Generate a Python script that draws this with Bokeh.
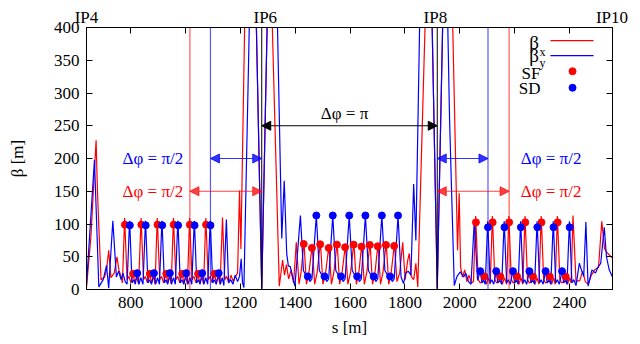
from bokeh.plotting import figure
from bokeh.models import Range1d, LinearAxis, FixedTicker, Label, Arrow, NormalHead, Span
from bokeh.embed import file_html
from bokeh.resources import INLINE

FONT = "'Liberation Serif', 'Times New Roman', serif"
RED = "#ff0000"
BLUE = "#0000ff"

# ---------------- data ----------------
x_ticks = [800, 1000, 1200, 1400, 1600, 1800, 2000, 2200, 2400]
y_ticks = [0, 50, 100, 150, 200, 250, 300, 350, 400]

ip_names = ["IP4", "IP6", "IP8", "IP10"]
ip_label_s = [639, 1291, 1911, 2555]
ip_line_s = [1278, 1918]

# beta_x (red) trace, (s [m], beta [m])
beta_x_pts = [
    (639, 3), (655, 80), (674, 228), (679, 150), (684, 95), (692, 15), (705, 19), (712, 30), (720, 60),
    (728, 18), (740, 25), (750, 50), (757, 30), (765, 20), (770, 10),
    (778, 109), (779, 99), (787, 15), (794, 20), (801, 10), (809, 24), (815, 10), (822, 20), (829, 8),
    (838, 109), (839, 99), (847, 15), (854, 20), (861, 10), (870, 24), (876, 10), (883, 20), (889, 8),
    (897, 109), (898, 99), (906, 15), (913, 20), (920, 10), (930, 24), (936, 10), (943, 20), (948, 8),
    (956, 109), (957, 99), (965, 15), (972, 20), (979, 10), (988, 24), (994, 10), (1001, 20), (1007, 8),
    (1015, 109), (1016, 99), (1024, 15), (1031, 20), (1038, 10), (1046, 24), (1052, 10), (1059, 20), (1066, 8),
    (1074, 109), (1075, 99), (1083, 15), (1090, 20), (1097, 10), (1106, 24), (1112, 10), (1119, 20), (1126, 8),
    (1135, 110), (1143, 15), (1150, 20), (1158, 10), (1166, 22), (1174, 12), (1182, 20), (1190, 25),
    (1197, 151), (1202, 62), (1216, 410), (1258, 410), (1278, 1), (1298, 410), (1316, 410), (1342, 5),
    (1354, 45), (1361, 22), (1368, 38), (1376, 16), (1385, 30), (1394, 10), (1404, 72), (1414, 8), (1422, 28),
    (1431, 69.5), (1432, 72), (1441, 8), (1450, 26), (1461, 63.5), (1462, 66), (1471, 8), (1480, 26),
    (1491, 69), (1492, 72), (1501, 8), (1511, 26), (1522, 63.5), (1523, 66), (1532, 8), (1541, 26),
    (1552, 68.5), (1553, 71), (1562, 8), (1571, 26), (1582, 64.5), (1583, 67), (1592, 8), (1602, 26),
    (1613, 68.5), (1614, 71), (1623, 8), (1632, 26), (1642, 65.5), (1643, 68), (1652, 8), (1661, 26),
    (1672, 68), (1673, 71), (1682, 8), (1691, 26), (1701, 66), (1702, 69), (1711, 8), (1720, 26),
    (1731, 68), (1732, 71), (1741, 8), (1750, 26), (1761, 66.5), (1762, 69),
    (1771, 12), (1781, 25), (1792, 72), (1801, 15), (1810, 44), (1816, 55), (1823, 20), (1832, 15),
    (1840, 40), (1847, 4), (1874, 410), (1899, 410), (1918, 1), (1938, 410), (1974, 410), (1992, 60),
    (1998, 147), (2003, 35),
    (2010, 19), (2018, 30), (2026, 12), (2034, 22), (2042, 10), (2050, 12),
    (2058, 112), (2059, 102.5), (2067, 15), (2075, 10), (2083, 12), (2090, 20), (2097, 8), (2104, 18), (2111, 8),
    (2119, 112), (2120, 102.5), (2128, 15), (2135, 10), (2142, 12), (2148, 20), (2155, 8), (2163, 18), (2171, 8),
    (2179, 112), (2180, 102.5), (2188, 15), (2195, 10), (2202, 12), (2209, 20), (2216, 8), (2223, 18), (2230, 8),
    (2238, 112), (2239, 102.5), (2247, 15), (2254, 10), (2260, 12), (2267, 20), (2274, 8), (2282, 18), (2289, 8),
    (2297, 112), (2298, 102.5), (2306, 15), (2313, 10), (2320, 12), (2328, 20), (2335, 8), (2342, 18), (2348, 8),
    (2356, 112), (2357, 102.5), (2365, 15), (2372, 10), (2379, 12), (2386, 20), (2393, 8), (2400, 18), (2406, 10),
    (2413, 113), (2424, 12), (2438, 14), (2448, 28), (2458, 12), (2469, 8), (2480, 22), (2492, 30),
    (2506, 34), (2518, 104), (2528, 62), (2540, 55), (2557, 48),
]

# beta_y (blue) trace, (s [m], beta [m])
beta_y_pts = [
    (639, 7), (668, 198), (684, 4), (700, 15), (712, 37), (720, 2), (735, 105), (748, 19), (756, 28),
    (765, 15), (772, 25), (780, 12),
    (787, 8), (796, 105), (797, 98), (805, 10), (811, 15), (817, 8), (824, 25), (830, 8), (837, 18),
    (845, 8), (854, 105), (855, 98), (863, 10), (869, 15), (876, 8), (885, 25), (891, 8), (898, 18),
    (905, 8), (914, 105), (915, 98), (923, 10), (929, 15), (935, 8), (943, 25), (949, 8), (956, 18),
    (963, 8), (972, 105), (973, 98), (981, 10), (987, 15), (994, 8), (1003, 25), (1009, 8), (1016, 18),
    (1023, 8), (1032, 105), (1033, 98), (1041, 10), (1047, 15), (1053, 8), (1061, 25), (1067, 8), (1074, 18),
    (1081, 8), (1090, 105), (1091, 98), (1099, 10), (1105, 15), (1112, 8), (1121, 25), (1127, 8), (1134, 18),
    (1140, 6), (1149, 107), (1157, 10), (1165, 15), (1173, 8), (1181, 22), (1190, 12), (1197, 20),
    (1203, 47), (1208, 10), (1213, 3), (1233, 410), (1258, 410), (1278, 1), (1298, 410), (1335, 410),
    (1351, 78), (1360, 166), (1369, 55), (1375, 36), (1382, 35), (1390, 20), (1399, 5), (1419, 113),
    (1430, 29), (1438, 22),
    (1446, 20), (1454, 12), (1461, 16), (1477, 113), (1488, 29), (1497, 22),
    (1507, 20), (1515, 12), (1522, 16), (1537, 113), (1548, 29), (1557, 22),
    (1567, 20), (1575, 12), (1582, 16), (1597, 113), (1608, 29), (1617, 22),
    (1626, 20), (1634, 12), (1641, 16), (1656, 113), (1667, 29), (1676, 22),
    (1686, 20), (1694, 12), (1701, 16), (1716, 113), (1727, 29), (1736, 22),
    (1746, 20), (1754, 12), (1761, 16), (1775, 113),
    (1786, 19), (1795, 9), (1803, 25), (1812, 28), (1822, 22), (1832, 161), (1840, 75), (1854, 410),
    (1899, 410), (1918, 1), (1938, 410), (1956, 410), (1963, 258), (1980, 6),
    (1990, 20), (2002, 27), (2014, 19), (2022, 25), (2032, 12), (2041, 8), (2053, 105), (2065, 14),
    (2075, 28), (2081, 10), (2087, 14), (2093, 8), (2102, 104), (2103, 95), (2111, 10), (2117, 15), (2124, 8),
    (2133, 28), (2139, 10), (2146, 14), (2153, 8), (2162, 104), (2163, 95), (2171, 10), (2177, 15), (2184, 8),
    (2194, 28), (2200, 10), (2207, 14), (2213, 8), (2222, 104), (2223, 95), (2231, 10), (2237, 15), (2244, 8),
    (2254, 28), (2260, 10), (2267, 14), (2273, 8), (2282, 104), (2283, 95), (2291, 10), (2297, 15), (2304, 8),
    (2313, 28), (2319, 10), (2326, 14), (2332, 8), (2341, 104), (2342, 95), (2350, 10), (2356, 15), (2363, 8),
    (2373, 28), (2379, 10), (2386, 14), (2391, 8), (2400, 104), (2401, 95), (2409, 10), (2416, 15), (2424, 6),
    (2436, 40), (2445, 28), (2452, 20), (2460, 103), (2468, 5), (2482, 30), (2495, 25), (2505, 35),
    (2514, 40), (2527, 95), (2535, 50), (2545, 30), (2557, 19),
]

# sextupole markers
sf_s = [779, 839, 898, 957, 1016, 1075, 809, 870, 930, 988, 1046, 1106,
        1431, 1461, 1491, 1522, 1552, 1582, 1613, 1642, 1672, 1701, 1731, 1761,
        2059, 2120, 2180, 2239, 2298, 2357, 2090, 2148, 2209, 2267, 2328, 2386]
sf_beta = [99, 99, 99, 99, 99, 99, 24, 24, 24, 24, 24, 24,
           69.5, 63.5, 69, 63.5, 68.5, 64.5, 68.5, 65.5, 68, 66, 68, 66.5,
           102.5, 102.5, 102.5, 102.5, 102.5, 102.5, 20, 20, 20, 20, 20, 20]
sd_s = [797, 855, 915, 973, 1033, 1091, 824, 885, 943, 1003, 1061, 1121,
        1477, 1537, 1597, 1656, 1716, 1775, 1446, 1507, 1567, 1626, 1686, 1746,
        2103, 2163, 2223, 2283, 2342, 2401, 2075, 2133, 2194, 2254, 2313, 2373]
sd_beta = [98, 98, 98, 98, 98, 98, 25, 25, 25, 25, 25, 25,
           113, 113, 113, 113, 113, 113, 20, 20, 20, 20, 20, 20,
           95, 95, 95, 95, 95, 95, 28, 28, 28, 28, 28, 28]

# phase-advance markers (sextupole positions used for the arrows)
red_mark_s = [1016, 2180]
blue_mark_s = [1091, 2103]
arrow_level = {"pi": 250, "blue": 200, "red": 150}

s_bx = [p_[0] for p_ in beta_x_pts]
b_x = [p_[1] for p_ in beta_x_pts]
s_by = [p_[0] for p_ in beta_y_pts]
b_y = [p_[1] for p_ in beta_y_pts]

X0, X1 = 639, 2557
Y0, Y1 = 0, 400

# ---------------- figure ----------------
p = figure(width=640, height=344, output_backend="svg", toolbar_location=None,
           x_range=Range1d(X0, X1), y_range=Range1d(Y0, Y1),
           min_border_left=86, min_border_right=28, min_border_top=27, min_border_bottom=55,
           x_axis_label="s [m]", y_axis_label="β [m]")
p.background_fill_color = "white"
p.border_fill_color = "white"
p.outline_line_color = "black"
p.outline_line_width = 1
p.xgrid.visible = False
p.ygrid.visible = False


def style_axis(ax, show_labels=True):
    ax.axis_line_color = "black"
    ax.major_tick_line_color = "black"
    ax.major_tick_in = 6
    ax.major_tick_out = 0
    ax.minor_tick_line_color = None
    ax.major_label_text_font = FONT
    ax.major_label_text_color = "black"
    ax.axis_label_text_font = FONT
    ax.axis_label_text_font_size = "17px"
    ax.axis_label_text_font_style = "normal"
    ax.axis_label_text_color = "black"
    if show_labels:
        ax.major_label_text_font_size = "17px"
        ax.major_label_standoff = 7
    else:
        ax.major_label_text_font_size = "1px"
        ax.major_label_text_color = None
        ax.major_label_standoff = 0


p.xaxis.ticker = FixedTicker(ticks=x_ticks)
p.yaxis.ticker = FixedTicker(ticks=y_ticks)
style_axis(p.xaxis[0])
style_axis(p.yaxis[0])
p.xaxis[0].axis_label_standoff = 7
p.yaxis[0].axis_label_standoff = 24

# mirrored tick marks (top and right)
ax_top = LinearAxis(ticker=FixedTicker(ticks=x_ticks))
style_axis(ax_top, False)
p.add_layout(ax_top, "above")
ax_right = LinearAxis(ticker=FixedTicker(ticks=y_ticks))
style_axis(ax_right, False)
p.add_layout(ax_right, "right")

# interaction-point names above the frame
ax_ip = LinearAxis(ticker=FixedTicker(ticks=ip_label_s),
                   major_label_overrides={s: n for s, n in zip(ip_label_s, ip_names)})
ax_ip.axis_line_color = None
ax_ip.major_tick_line_color = None
ax_ip.major_tick_in = 0
ax_ip.major_tick_out = 0
ax_ip.minor_tick_line_color = None
ax_ip.major_label_text_font = FONT
ax_ip.major_label_text_font_size = "17px"
ax_ip.major_label_text_color = "black"
ax_ip.major_label_standoff = 1
p.add_layout(ax_ip, "above")

# vertical marker lines
for s in red_mark_s:
    p.add_layout(Span(location=s, dimension="height", line_color=RED, line_alpha=0.65, line_width=1.2))
for s in blue_mark_s:
    p.add_layout(Span(location=s, dimension="height", line_color=BLUE, line_alpha=0.65, line_width=1.2))
for s in ip_line_s:
    p.add_layout(Span(location=s, dimension="height", line_color="black", line_width=1))

# curves
p.line(s_bx, b_x, line_color=RED, line_width=1.2)
p.line(s_by, b_y, line_color=BLUE, line_width=1.2)
p.scatter(sf_s, sf_beta, size=7, fill_color=RED, line_color=RED)
p.scatter(sd_s, sd_beta, size=7, fill_color=BLUE, line_color=BLUE)


def add_arrow(x0, x1, y, color, alpha=1.0):
    h1 = NormalHead(size=9, fill_color=color, line_color=color, fill_alpha=alpha, line_alpha=alpha)
    h2 = NormalHead(size=9, fill_color=color, line_color=color, fill_alpha=alpha, line_alpha=alpha)
    p.add_layout(Arrow(x_start=x0, y_start=y, x_end=x1, y_end=y, start=h1, end=h2,
                       line_color=color, line_alpha=alpha, line_width=1.2))


add_arrow(ip_line_s[0], ip_line_s[1], arrow_level["pi"], "black")
add_arrow(blue_mark_s[0], ip_line_s[0], arrow_level["blue"], BLUE, 0.8)
add_arrow(ip_line_s[1], blue_mark_s[1], arrow_level["blue"], BLUE, 0.8)
add_arrow(red_mark_s[0], ip_line_s[0], arrow_level["red"], RED, 0.75)
add_arrow(ip_line_s[1], red_mark_s[1], arrow_level["red"], RED, 0.75)


def add_text(x, y, text, color="black", size="17px", align="center", baseline="middle"):
    p.add_layout(Label(x=x, y=y, text=text, text_color=color, text_font=FONT, text_font_size=size,
                       text_align=align, text_baseline=baseline))


add_text(1580, 268, "Δφ = π")
add_text(881, 200, "Δφ = π/2", BLUE)
add_text(881, 150, "Δφ = π/2", RED)
add_text(2333, 200, "Δφ = π/2", BLUE)
add_text(2333, 150, "Δφ = π/2", RED)

# ---------------- legend (positions as fractions of the frame) ----------------
def fx(f):
    return X0 + f * (X1 - X0)


def fy(f):
    return Y0 + f * (Y1 - Y0)


add_text(fx(0.860), fy(0.942), "β", size="19px", align="right")
add_text(fx(0.861), fy(0.908), "x", size="12px", align="left")
add_text(fx(0.860), fy(0.892), "β", size="19px", align="right")
add_text(fx(0.861), fy(0.866), "y", size="12px", align="left")
add_text(fx(0.863), fy(0.826), "SF", size="17px", align="right")
add_text(fx(0.863), fy(0.767), "SD", size="17px", align="right")
p.segment(x0=[fx(0.882)], y0=[fy(0.950)], x1=[fx(0.964)], y1=[fy(0.950)], line_color=RED, line_width=1.2)
p.segment(x0=[fx(0.882)], y0=[fy(0.893)], x1=[fx(0.964)], y1=[fy(0.893)], line_color=BLUE, line_width=1.2)
p.scatter([fx(0.924)], [fy(0.833)], size=7, fill_color=RED, line_color=RED)
p.scatter([fx(0.924)], [fy(0.770)], size=7, fill_color=BLUE, line_color=BLUE)

open("out.html", "w").write(file_html(p, INLINE))
